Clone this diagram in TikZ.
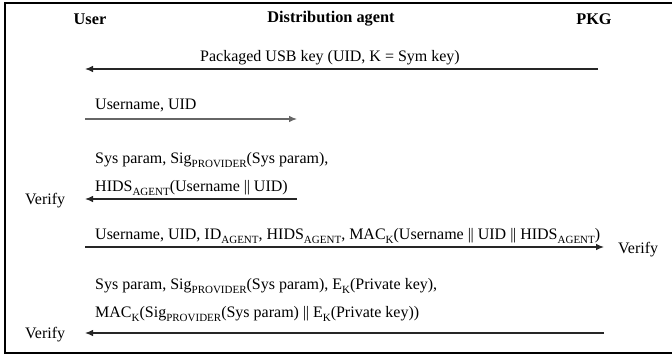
\documentclass[tikz,border=0pt]{standalone}
\usepackage{fontspec}
\setmainfont{Liberation Serif}
\usepackage{amsmath}
\usepackage{tikz}
\usetikzlibrary{arrows.meta}
\newcommand{\low}[1]{\raisebox{-0.55ex}{\fontsize{11}{12}\selectfont #1}}
\newcommand{\dbar}{ \textbar\kern-0.4pt\textbar{} }

\begin{document}
\begin{tikzpicture}[x=1pt, y=-1pt, >={Latex[length=8pt,width=6.5pt]}, font=\fontsize{16}{18}\selectfont,
  msg/.style={anchor=base west, inner sep=0pt},
  head/.style={font=\fontsize{16.3}{18}\selectfont\bfseries, inner sep=0pt},
  line/.style={black!85, line width=1.1pt, ->}]
\useasboundingbox (0,0) rectangle (672,356);
\draw[line width=2pt] (672,3) -- (5,3) -- (5,353) -- (672,353);
% participants
\node[head] (user) at (90,19) {User};
\node[head] (agent) at (331,19) {Distribution agent};
\node[head] (pkg) at (594,19) {PKG};
% end points of the messages
\coordinate (u1) at (85,69);   \coordinate (p1) at (598,69);
\coordinate (u2) at (85,119);  \coordinate (a2) at (297,119);
\coordinate (u3) at (85,199);  \coordinate (a3) at (297,199);
\coordinate (u4) at (85,247);  \coordinate (p4) at (604,247);
\coordinate (u5) at (85,333);  \coordinate (p5) at (604,333);
% messages
\node[anchor=base] (m1) at (330,61) {Packaged USB key (UID, K = Sym key)};
\draw[line] (p1) -- (u1);
\node[msg] (m2) at (95,109) {Username, UID};
\draw[line, black!60] (u2) -- (a2);
\node[msg] (m3a) at (95,163) {Sys param, Sig\low{PROVIDER}(Sys param),};
\node[msg] (m3b) at (95,191) {HIDS\low{AGENT}(Username\dbar UID)};
\draw[line] (a3) -- (u3);
\node[anchor=base west, inner sep=0pt] (v3) at (25,204) {Verify};
\node[msg] (m4) at (95,239) {Username, UID, ID\low{AGENT}, HIDS\low{AGENT}, MAC\low{K}(Username\dbar UID\dbar HIDS\low{AGENT})};
\draw[line] (u4) -- (p4);
\node[anchor=base west, inner sep=0pt] (v4) at (618,253) {Verify};
\node[msg] (m5a) at (95,289) {Sys param, Sig\low{PROVIDER}(Sys param), E\low{K}(Private key),};
\node[msg] (m5b) at (95,317) {MAC\low{K}(Sig\low{PROVIDER}(Sys param)\dbar E\low{K}(Private key))};
\draw[line] (p5) -- (u5);
\node[anchor=base west, inner sep=0pt] (v5) at (25,338) {Verify};
\end{tikzpicture}
\end{document}
